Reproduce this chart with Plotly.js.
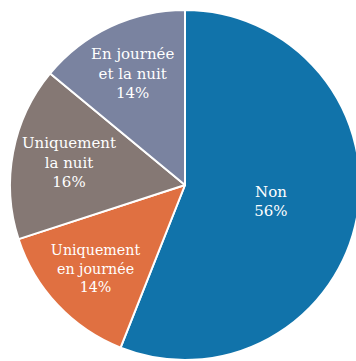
<!DOCTYPE html>
<html><head><meta charset="utf-8">
<script src="https://cdn.plot.ly/plotly-3.0.1.min.js"></script>
<style>html,body{margin:0;padding:0;overflow:hidden;background:#fff}</style>
</head><body><div id="chart"></div>
<script>
const labels = ["Non", "Uniquement en journée", "Uniquement la nuit", "En journée et la nuit"];
const displayLabels = ["Non", "Uniquement<br>en journée", "Uniquement<br>la nuit", "En journée<br>et la nuit"];
const values = [56, 14, 16, 14];
const colors = ["#1173aa", "#e07041", "#857874", "#7a83a0"];

Plotly.newPlot("chart", [{
  type: "pie",
  labels: labels,
  values: values,
  text: displayLabels,
  sort: false,
  direction: "clockwise",
  rotation: 0,
  marker: {colors: colors, line: {color: "#ffffff", width: 2}},
  texttemplate: "%{text}<br>%{percent:.0%}",
  textposition: "inside",
  insidetextorientation: "horizontal",
  textfont: {family: "'DejaVu Serif', serif", size: 15, color: "#ffffff"},
  hoverinfo: "none"
}], {
  width: 370, height: 370,
  margin: {l: 10, r: 10, t: 10, b: 10},
  showlegend: false,
  paper_bgcolor: "#ffffff",
  font: {family: "'DejaVu Serif', serif"}
}, {displayModeBar: false, staticPlot: true});
</script></body></html>
